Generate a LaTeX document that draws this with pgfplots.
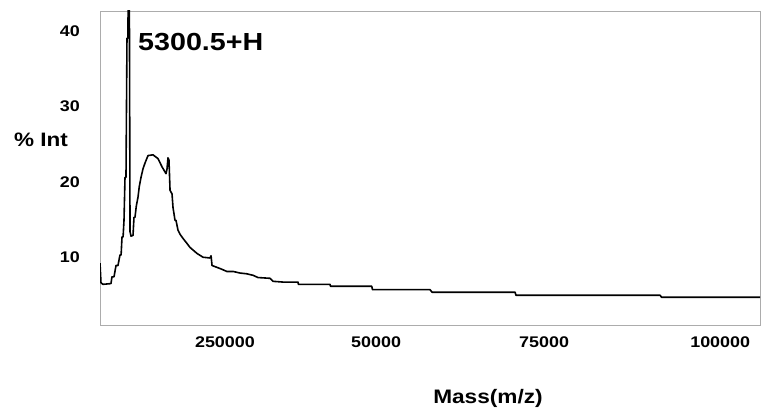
\documentclass[border=0pt]{standalone}
\usepackage{fontspec}
\setmainfont{Liberation Sans}[FakeStretch=1.16]
\usepackage{pgfplots}
\pgfplotsset{compat=1.18}
\usetikzlibrary{calc}

\begin{document}
\begin{tikzpicture}
\begin{axis}[
   name=ax,
   scale only axis, width=660bp, height=314bp,
   xmin=7110, xmax=106900,
   ymin=1, ymax=42.7,
   scaled x ticks=false,
   xtick={26000,48850,74260,100880},
   xticklabels={250000,50000,75000,100000},
   ytick={10,20,30,40},
   yticklabels={10,20,30,40},
   major tick length=0pt,
   axis line style={gray!65, line width=0.8pt},
   xticklabel style={font=\fontsize{15.5}{18}\selectfont\bfseries,
                     inner sep=0pt, anchor=center, yshift=-17bp},
   yticklabel style={font=\fontsize{15.5}{18}\selectfont\bfseries,
                     inner sep=0pt, anchor=east, xshift=-20bp},
   ]
%% spectrum trace
\addplot[black, line width=1.6pt, line join=round] coordinates {
  (7110,9.2) (7260,6.6) (7560,6.4) (8770,6.5) (8920,7.4) (9230,7.4)
  (9530,8.9) (9830,8.9) (10130,10.3) (10300,10.3) (10440,12.7)
  (10600,12.7) (10740,14.9) (10890,20.6) (11040,20.6)
  (11190,39.1) (11340,39.1) (11420,60) (11500,60) (11650,13.4)
  (11800,12.8) (12100,12.9) (12250,15.3) (12400,15.3) (12600,16.8)
  (12860,18.0) (13050,19.4) (13310,20.6) (13600,21.7)
  (13910,22.5) (14370,23.5) (15120,23.6) (15880,23.1) (16490,22.0)
  (17090,21.1) (17240,21.7) (17390,23.2) (17540,22.9) (17700,18.9)
  (18000,18.4) (18150,16.6) (18450,14.9) (18600,14.9) (18900,13.6)
  (19250,13.0) (19660,12.5) (20200,11.9)
  (20720,11.3) (21250,10.9) (21780,10.5) (22690,10.0) (23740,9.9) (23900,10.2)
  (24050,8.9) (25260,8.5) (26320,8.1) (27300,8.1) (28280,7.9) (29300,7.8)
  (30250,7.6) (31000,7.3) (32820,7.2) (33270,6.8) (34790,6.7) (37050,6.7)
  (37100,6.4) (41890,6.4) (41950,6.15) (48200,6.15) (48300,5.7)
  (57000,5.7) (57320,5.35) (69870,5.35) (70000,4.95) (91800,4.95)
  (92000,4.69) (106900,4.69)};
\end{axis}
\node[font=\fontsize{19.5}{22}\selectfont\bfseries] at ($(ax.south west)+(-59bp,185bp)$) {\% Int};
\node[font=\fontsize{19.6}{22}\selectfont\bfseries] at ($(ax.south west)+(388bp,-73bp)$) {Mass(m/z)};
\node[font=\fontsize{24.8}{28}\selectfont\bfseries, anchor=west, inner sep=0pt] at ($(ax.south west)+(38bp,283bp)$) {5300.5+H};
\path ($(ax.south west)+(-100bp,-89bp)$) rectangle ($(ax.south west)+(661bp,325bp)$);
\end{tikzpicture}
\end{document}
